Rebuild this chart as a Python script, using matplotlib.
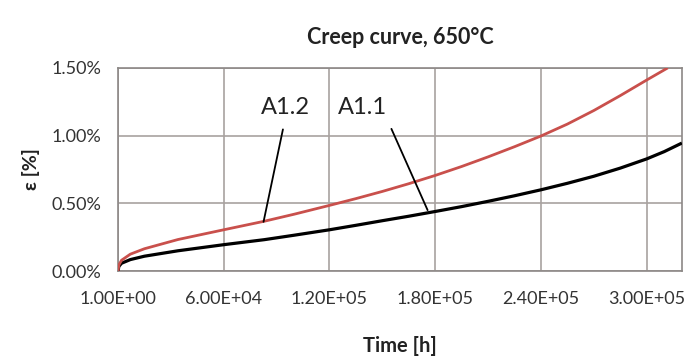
import matplotlib
matplotlib.use("Agg")
import matplotlib.pyplot as plt
from matplotlib.ticker import PercentFormatter, FuncFormatter

# Data (time in h, strain in %)
time_a11 = [1, 500, 2000, 7000, 15000, 34000, 60000, 83000, 100000, 120000, 135000,
            150000, 165000, 180000, 195000, 210000, 225000, 240000, 255000, 270000,
            285000, 300000, 310000, 320000]
strain_a11 = [0.0, 0.035, 0.058, 0.085, 0.11, 0.15, 0.195, 0.232, 0.265, 0.305, 0.338,
              0.372, 0.405, 0.44, 0.476, 0.515, 0.556, 0.60, 0.648, 0.70,
              0.76, 0.828, 0.882, 0.945]
time_a12 = [1, 500, 2000, 7000, 15000, 34000, 60000, 83000, 100000, 120000, 135000,
            150000, 165000, 180000, 195000, 210000, 225000, 240000, 255000, 270000,
            285000, 300000, 312000]
strain_a12 = [0.0, 0.045, 0.08, 0.125, 0.165, 0.233, 0.305, 0.368, 0.42, 0.485, 0.535,
              0.588, 0.645, 0.706, 0.772, 0.843, 0.918, 0.997, 1.085, 1.185,
              1.295, 1.41, 1.50]
x_ticks = [1, 60000, 120000, 180000, 240000, 300000]
y_ticks = [0.0, 0.5, 1.0, 1.5]

plt.rcParams['font.family'] = ['Lato', 'DejaVu Sans']

fig = plt.figure(figsize=(6.86, 3.61), dpi=100)
ax = fig.add_axes([0.172, 0.249, 0.822, 0.563])

grid_c = '#a8a2a0'
ax.plot(time_a11, strain_a11, color='black', lw=2.3, solid_capstyle='butt',
        solid_joinstyle='round', zorder=3)
ax.plot(time_a12, strain_a12, color='#c9504c', lw=2.0, solid_capstyle='butt',
        solid_joinstyle='round', zorder=3)

ax.set_xlim(1, 320000)
ax.set_ylim(0, 1.5)
ax.set_xticks(x_ticks)
ax.set_yticks(y_ticks)
ax.xaxis.set_major_formatter(FuncFormatter(lambda v, p: f"{v:.2E}"))
ax.yaxis.set_major_formatter(PercentFormatter(xmax=100, decimals=2))
ax.grid(True, color=grid_c, lw=1.2)
ax.set_axisbelow(True)
for s in ax.spines.values():
    s.set_color('#8c8886')
    s.set_linewidth(1.2)
ax.tick_params(length=0, labelsize=13, colors='#333333')
ax.tick_params(axis='x', pad=14)
ax.tick_params(axis='y', pad=12)

ax.set_title("Creep curve, 650°C", fontsize=15.5, fontweight='bold', pad=17, color='#222222')
ax.set_xlabel("Time [h]", fontsize=14.5, fontweight='bold', labelpad=21, color='#222222')
ax.set_ylabel("ε [%]", fontsize=14, fontweight='bold', labelpad=8, color='#222222')

ax.annotate("A1.2", xy=(82600, 0.364), xytext=(94900, 1.204), ha='center', va='center',
            fontsize=17, color='#222222',
            arrowprops=dict(arrowstyle='-', color='black', lw=1.3, relpos=(0.5, 0), shrinkA=6, shrinkB=0))
ax.annotate("A1.1", xy=(175700, 0.45), xytext=(138600, 1.204), ha='center', va='center',
            fontsize=17, color='#222222',
            arrowprops=dict(arrowstyle='-', color='black', lw=1.3, relpos=(1.0, 0), shrinkA=6, shrinkB=0))

fig.savefig("out.png", dpi=100, facecolor='white')
